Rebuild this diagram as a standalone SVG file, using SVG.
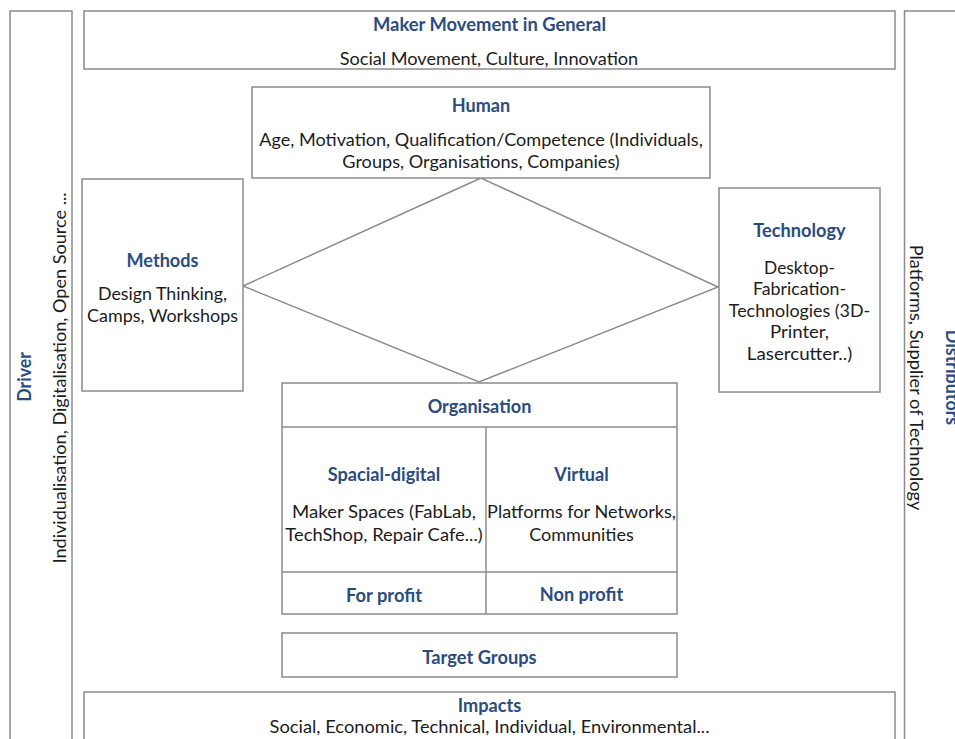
<svg xmlns="http://www.w3.org/2000/svg" width="955" height="739" viewBox="0 0 955 739">
<style>
.box{fill:#ffffff;stroke:#8c8c8c;stroke-width:1.5}
.ln{fill:none;stroke:#8c8c8c;stroke-width:1.5}
text{font-family:Lato,"Liberation Sans",sans-serif;font-size:18px;fill:#1c1c1c;text-anchor:middle}
text.h{font-weight:bold;fill:#2b4c7e}
</style>
<rect width="955" height="739" fill="#ffffff"/>
<g id="driver">
<rect class="box" x="10" y="11" width="62" height="740"/>
<text class="h" transform="translate(31,377) rotate(-90)" textLength="49.7" lengthAdjust="spacingAndGlyphs">Driver</text>
<text transform="translate(66,378) rotate(-90)" textLength="371" lengthAdjust="spacingAndGlyphs">Individualisation, Digitalisation, Open Source ...</text>
</g>
<g id="distributors">
<rect class="box" x="904.5" y="11" width="70" height="740"/>
<text transform="translate(910,377.5) rotate(90)" textLength="265.7" lengthAdjust="spacingAndGlyphs">Platforms, Supplier of Technology</text>
<text class="h" transform="translate(946,377.5) rotate(90)" textLength="95.4" lengthAdjust="spacingAndGlyphs">Distributors</text>
</g>
<g id="maker-movement">
<rect class="box" x="84" y="11" width="811" height="58"/>
<text class="h" x="489.5" y="31" textLength="233" lengthAdjust="spacingAndGlyphs">Maker Movement in General</text>
<text x="489" y="65" textLength="298.5" lengthAdjust="spacingAndGlyphs">Social Movement, Culture, Innovation</text>
</g>
<g id="connectors">
<polygon class="ln" points="481,178 243,286 479,382 718,287"/>
</g>
<g id="human">
<rect class="box" x="252" y="87" width="458" height="91"/>
<text class="h" x="481" y="112" textLength="58.4" lengthAdjust="spacingAndGlyphs">Human</text>
<text x="481" y="146" textLength="443.6" lengthAdjust="spacingAndGlyphs">Age, Motivation, Qualification/Competence (Individuals,</text>
<text x="481" y="168" textLength="277.4" lengthAdjust="spacingAndGlyphs">Groups, Organisations, Companies)</text>
</g>
<g id="methods">
<rect class="box" x="82" y="179" width="161" height="212"/>
<text class="h" x="162.5" y="267" textLength="72" lengthAdjust="spacingAndGlyphs">Methods</text>
<text x="162.5" y="300" textLength="129" lengthAdjust="spacingAndGlyphs">Design Thinking,</text>
<text x="162.5" y="322" textLength="151" lengthAdjust="spacingAndGlyphs">Camps, Workshops</text>
</g>
<g id="technology">
<rect class="box" x="719" y="188" width="161" height="204"/>
<text class="h" x="799.5" y="237" textLength="92.3" lengthAdjust="spacingAndGlyphs">Technology</text>
<text x="799.5" y="273.5" textLength="70.8" lengthAdjust="spacingAndGlyphs">Desktop-</text>
<text x="799.5" y="295" textLength="93" lengthAdjust="spacingAndGlyphs">Fabrication-</text>
<text x="799.5" y="316.7" textLength="141.4" lengthAdjust="spacingAndGlyphs">Technologies (3D-</text>
<text x="799.5" y="338.3" textLength="59.2" lengthAdjust="spacingAndGlyphs">Printer,</text>
<text x="799.5" y="360" textLength="105.3" lengthAdjust="spacingAndGlyphs">Lasercutter..)</text>
</g>
<g id="organisation">
<rect class="box" x="282" y="383" width="395" height="231"/>
<line class="ln" x1="282" y1="427" x2="677" y2="427"/>
<line class="ln" x1="486" y1="427" x2="486" y2="614"/>
<line class="ln" x1="282" y1="572" x2="677" y2="572"/>
<text class="h" x="479.5" y="413" textLength="103.7" lengthAdjust="spacingAndGlyphs">Organisation</text>
<text class="h" x="384" y="481" textLength="112.6" lengthAdjust="spacingAndGlyphs">Spacial-digital</text>
<text x="384" y="518" textLength="184" lengthAdjust="spacingAndGlyphs">Maker Spaces (FabLab,</text>
<text x="384" y="541" textLength="197.3" lengthAdjust="spacingAndGlyphs">TechShop, Repair Cafe...)</text>
<text class="h" x="581.5" y="481" textLength="54.6" lengthAdjust="spacingAndGlyphs">Virtual</text>
<text x="581.5" y="518" textLength="188.8" lengthAdjust="spacingAndGlyphs">Platforms for Networks,</text>
<text x="581.5" y="541" textLength="104.6" lengthAdjust="spacingAndGlyphs">Communities</text>
<text class="h" x="384" y="602" textLength="76" lengthAdjust="spacingAndGlyphs">For profit</text>
<text class="h" x="581.5" y="600.5" textLength="83.4" lengthAdjust="spacingAndGlyphs">Non profit</text>
</g>
<g id="target-groups">
<rect class="box" x="282" y="633" width="395" height="44"/>
<text class="h" x="479.5" y="664" textLength="114.3" lengthAdjust="spacingAndGlyphs">Target Groups</text>
</g>
<g id="impacts">
<rect class="box" x="84" y="692" width="811" height="70"/>
<text class="h" x="489.5" y="712" textLength="63.5" lengthAdjust="spacingAndGlyphs">Impacts</text>
<text x="489.5" y="733" textLength="440" lengthAdjust="spacingAndGlyphs">Social, Economic, Technical, Individual, Environmental...</text>
</g>
</svg>
